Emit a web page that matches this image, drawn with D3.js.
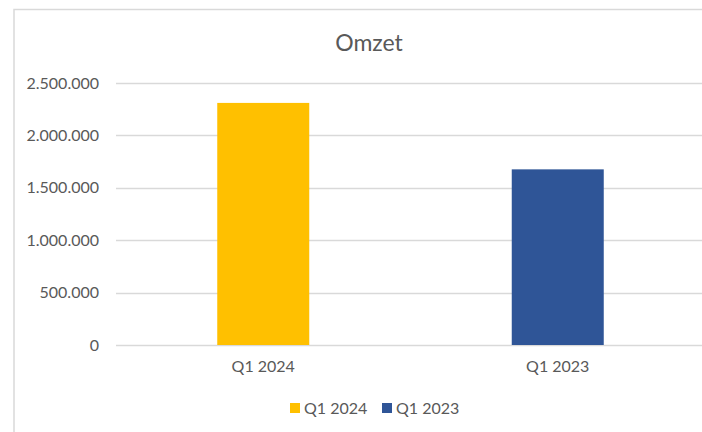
<!DOCTYPE html>
<html>
<head>
<meta charset="utf-8">
<script src="https://cdn.jsdelivr.net/npm/d3@7"></script>
<style>
  body { margin: 0; background: #fff; }
  svg { display: block; font-family: Lato, "Open Sans", sans-serif; }
</style>
</head>
<body>
<svg id="chart" width="702" height="432"></svg>
<script>
// data
var categories = ["Q1 2024", "Q1 2023"];
var omzet = [2310000, 1676000];
var barColors = ["#FFC000", "#2F5597"];
var yTicks = [0, 500000, 1000000, 1500000, 2000000, 2500000];

var svg = d3.select("#chart");
var textColor = "#595959";

var nl = d3.formatLocale({decimal: ",", thousands: ".", grouping: [3], currency: ["", ""]});
var fmt = nl.format(",d");

// chart frame (right and bottom edges are off the picture)
svg.append("rect")
    .attr("x", 14).attr("y", 9.5)
    .attr("width", 720).attr("height", 440)
    .attr("fill", "#fff")
    .attr("stroke", "#d9d9d9")
    .attr("stroke-width", 1.5);

var x = d3.scaleBand()
    .domain(categories)
    .range([116, 705])
    .paddingInner(0.6876)
    .paddingOuter(0.3438);

var y = d3.scaleLinear()
    .domain([0, 2500000])
    .range([345, 83]);

// gridlines
svg.append("g")
    .selectAll("line")
    .data(yTicks)
    .enter().append("line")
        .attr("x1", 116)
        .attr("x2", 705)
        .attr("y1", function(d) { return Math.round(y(d)) + 0.5; })
        .attr("y2", function(d) { return Math.round(y(d)) + 0.5; })
        .attr("stroke", "#d9d9d9")
        .attr("stroke-width", 1.3);

// y axis labels
var yAxis = svg.append("g")
    .attr("transform", "translate(116,0)")
    .call(d3.axisLeft(y).tickValues(yTicks).tickFormat(fmt).tickSize(0).tickPadding(17));
yAxis.select(".domain").remove();
yAxis.selectAll("text")
    .attr("fill", textColor)
    .style("font-size", "16px")
    .style("font-family", "Lato, 'Open Sans', sans-serif");

// bars
svg.append("g")
    .selectAll("rect")
    .data(omzet)
    .enter().append("rect")
        .attr("x", function(d, i) { return x(categories[i]); })
        .attr("y", function(d) { return y(d); })
        .attr("width", x.bandwidth())
        .attr("height", function(d) { return y(0) - y(d); })
        .attr("fill", function(d, i) { return barColors[i]; });

// x axis labels
var xAxis = svg.append("g")
    .attr("transform", "translate(0,345)")
    .call(d3.axisBottom(x).tickSize(0).tickPadding(16));
xAxis.select(".domain").remove();
xAxis.selectAll("text")
    .attr("fill", textColor)
    .style("font-size", "16px")
    .style("font-family", "Lato, 'Open Sans', sans-serif");

// title
svg.append("text")
    .attr("x", 369)
    .attr("y", 51)
    .attr("text-anchor", "middle")
    .attr("fill", textColor)
    .style("font-size", "23px")
    .text("Omzet");

// legend
var legendX = [290, 382];
var legend = svg.append("g")
    .selectAll("g")
    .data(categories)
    .enter().append("g")
        .attr("transform", function(d, i) { return "translate(" + legendX[i] + ",403)"; });
legend.append("rect")
    .attr("width", 10).attr("height", 10)
    .attr("fill", function(d, i) { return barColors[i]; });
legend.append("text")
    .attr("x", 14)
    .attr("y", 11)
    .attr("fill", textColor)
    .style("font-size", "16px")
    .text(function(d) { return d; });
</script>
</body>
</html>
